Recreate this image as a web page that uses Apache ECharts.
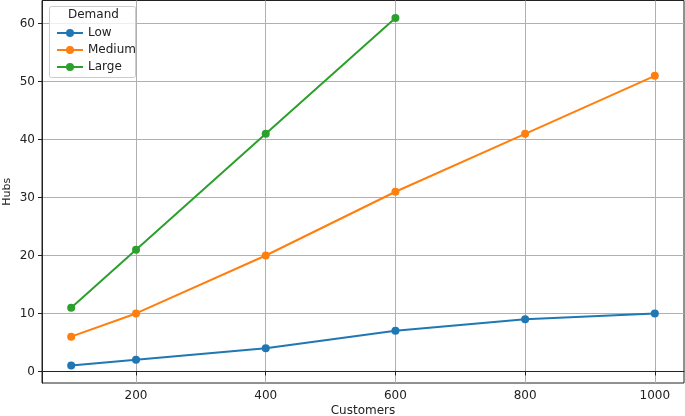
<!DOCTYPE html>
<html>
<head>
<meta charset="utf-8">
<script src="https://cdn.jsdelivr.net/npm/echarts@6/dist/echarts.min.js"></script>
<style>
  html, body { margin: 0; padding: 0; background: #fff; }
  #chart { width: 685px; height: 416px; }
</style>
</head>
<body>
<div id="chart"></div>
<script>
  // data
  const customers = [100, 200, 400, 600, 800, 1000];
  const lowHubs = [1, 2, 4, 7, 9, 10];
  const mediumHubs = [6, 10, 20, 31, 41, 51];
  const largeHubs = [11, 21, 41, 61]; // only up to 600 customers
  const xTicks = [200, 400, 600, 800, 1000];
  const yTicks = [0, 10, 20, 30, 40, 50, 60];

  const colors = ['#1f77b4', '#ff7f0e', '#2ca02c'];
  const font = 'DejaVu Sans';

  function pairs(ys) {
    return ys.map((y, i) => [customers[i], y]);
  }

  function lineSeries(name, ys, color) {
    return {
      name: name,
      type: 'line',
      data: pairs(ys),
      symbol: 'circle',
      symbolSize: 8,
      showSymbol: true,
      lineStyle: { color: color, width: 2 },
      itemStyle: { color: color },
      z: 3,
    };
  }

  const chart = echarts.init(document.getElementById('chart'));
  const option = {
    animation: false,
    textStyle: { fontFamily: font },
    grid: {
      left: 42, right: 1, top: 0.5, bottom: 33,
      containLabel: false, outerBoundsMode: 'none',
      show: true, borderColor: '#222', borderWidth: 1,
    },
    legend: {
      orient: 'vertical',
      left: 51, top: 22, z: 20,
      itemWidth: 26, itemHeight: 10, itemGap: 5,
      textStyle: { fontFamily: font, fontSize: 12, color: '#222' },
      data: ['Low', 'Medium', 'Large'],
    },
    graphic: [
      {
        type: 'rect', left: 49, top: 6, z: 10,
        shape: { width: 86, height: 71, r: 2 },
        style: { fill: 'rgba(255,255,255,0.8)', stroke: '#ccc', lineWidth: 1 },
      },
      {
        type: 'text', left: 68, top: 9, z: 11,
        style: { text: 'Demand', font: '12px "DejaVu Sans"', fill: '#222' },
      },
    ],
    xAxis: {
      type: 'value',
      min: 55, max: 1045,
      name: 'Customers', nameLocation: 'middle', nameGap: 22, nameMoveOverlap: false,
      nameTextStyle: { fontFamily: font, fontSize: 12, color: '#222' },
      axisLine: { lineStyle: { color: '#222', width: 1 } },
      axisTick: { show: true, length: 4, customValues: xTicks, lineStyle: { color: '#222' } },
      axisLabel: { customValues: xTicks, fontSize: 12, color: '#222', margin: 7, formatter: v => String(v) },
      splitLine: { show: true, lineStyle: { color: '#b0b0b0', width: 1 } },
    },
    yAxis: {
      type: 'value',
      min: -2, max: 64,
      name: 'Hubs', nameLocation: 'middle', nameGap: 29, nameRotate: 90, nameMoveOverlap: false,
      nameTextStyle: { fontFamily: font, fontSize: 11, color: '#222' },
      axisLine: { show: true, lineStyle: { color: '#222', width: 1 } },
      axisTick: { show: true, length: 4, customValues: yTicks, lineStyle: { color: '#222' } },
      axisLabel: { customValues: yTicks, fontSize: 12, color: '#222', margin: 7 },
      splitLine: { show: true, lineStyle: { color: '#b0b0b0', width: 1 } },
    },
    series: [
      lineSeries('Low', lowHubs, colors[0]),
      lineSeries('Medium', mediumHubs, colors[1]),
      lineSeries('Large', largeHubs, colors[2]),
    ],
  };
  chart.setOption(option);
</script>
</body>
</html>
